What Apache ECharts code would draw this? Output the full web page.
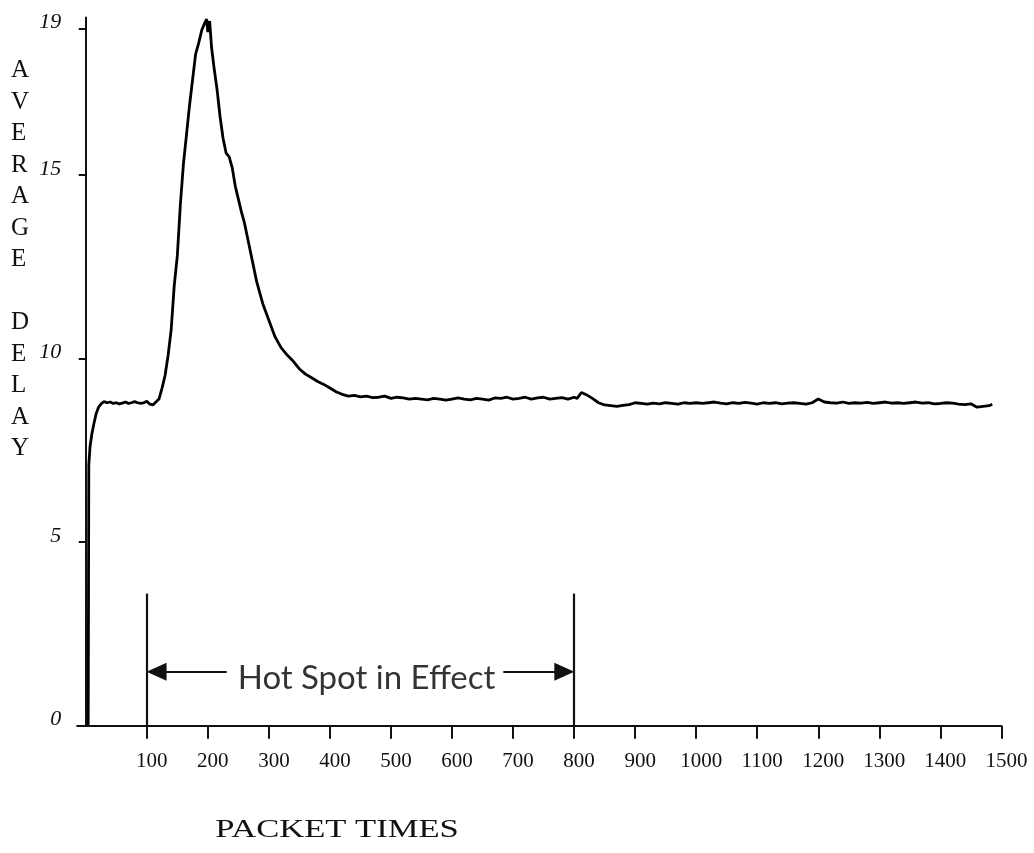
<!DOCTYPE html>
<html>
<head>
<meta charset="utf-8">
<script src="https://cdn.jsdelivr.net/npm/echarts@6/dist/echarts.min.js"></script>
<style>
html,body{margin:0;padding:0;background:#fff;}
#chart{width:1034px;height:853px;}
</style>
</head>
<body>
<div id="chart"></div>
<script>
// ---- data ----
var packetTimes = [4,4.5,5,7,10,13,17,21,26,30,35,40,45,50,55,60,65,70,75,80,85,90,95,100,105,110,115,120,125,130,135,140,145,150,155,160,165,170,175,180,185,190,195,198,200,203,206,210,215,220,225,230,235,240,245,250,255,260,270,280,290,300,310,320,330,340,350,360,370,380,390,400,410,420,430,440,450,460,470,480,490,500,510,520,530,540,550,560,570,580,590,600,610,620,630,640,650,660,670,680,690,700,710,720,730,740,750,760,770,780,790,800,805,812,820,830,840,850,860,870,880,890,900,910,920,930,940,950,960,970,980,990,1000,1010,1020,1030,1040,1050,1060,1070,1080,1090,1100,1110,1120,1130,1140,1150,1160,1170,1180,1190,1200,1210,1220,1230,1240,1250,1260,1270,1280,1290,1300,1310,1320,1330,1340,1350,1360,1370,1380,1390,1400,1410,1420,1430,1440,1450,1460,1470,1480,1485];
var averageDelay = [0,3.5,7.1,7.6,7.95,8.2,8.5,8.68,8.78,8.83,8.8,8.82,8.78,8.8,8.77,8.79,8.82,8.78,8.8,8.83,8.8,8.78,8.8,8.84,8.76,8.74,8.82,8.9,9.2,9.55,10.1,10.8,12.0,12.8,14.2,15.3,16.1,16.9,17.6,18.3,18.6,18.95,19.15,19.25,18.9,19.2,18.5,17.95,17.35,16.6,16.0,15.6,15.5,15.2,14.7,14.35,14.0,13.7,12.9,12.1,11.5,11.05,10.6,10.3,10.1,9.93,9.72,9.58,9.48,9.38,9.3,9.2,9.1,9.03,8.98,9.0,8.96,8.98,8.94,8.95,8.98,8.92,8.95,8.93,8.9,8.92,8.9,8.88,8.92,8.9,8.87,8.9,8.93,8.9,8.88,8.92,8.9,8.87,8.93,8.92,8.95,8.9,8.92,8.95,8.9,8.93,8.95,8.9,8.92,8.94,8.9,8.95,8.92,9.08,9.02,8.92,8.8,8.74,8.72,8.7,8.73,8.75,8.8,8.78,8.76,8.79,8.77,8.8,8.78,8.76,8.8,8.78,8.8,8.78,8.8,8.82,8.79,8.77,8.8,8.78,8.81,8.79,8.76,8.8,8.78,8.8,8.77,8.79,8.8,8.78,8.76,8.8,8.9,8.82,8.8,8.79,8.82,8.78,8.8,8.79,8.81,8.78,8.8,8.82,8.79,8.8,8.78,8.8,8.82,8.79,8.8,8.77,8.78,8.8,8.79,8.76,8.75,8.77,8.68,8.7,8.72,8.76,8.8,8.82];

var xTickValues = [100,200,300,400,500,600,700,800,900,1000,1100,1200,1300,1400,1500];
var yTickValues = [0,5,10,15,19];

var hotSpotStart = 100;
var hotSpotEnd = 800;
var hotSpotMarkerTop = 3.6;
var hotSpotArrowY = 1.47;
var hotSpotArrowLeftFrom = 231;
var hotSpotArrowRightFrom = 684;
var hotSpotLabel = 'Hot Spot in Effect';
var hotSpotLabelPos = [460, 1.3];

var yTitle = 'A\nV\nE\nR\nA\nG\nE\n\nD\nE\nL\nA\nY';
var xTitle = 'PACKET TIMES';

// ---- styling helpers ----
var arrowTipShift = 16; // half the arrowhead length, in x units, so the tip touches the marker line
var seriesData = packetTimes.map(function (x, i) { return [x, averageDelay[i]]; });
var ink = '#111';
var chart = echarts.init(document.getElementById('chart'), null, {renderer: 'canvas'});
chart.setOption({
  animation: false,
  backgroundColor: '#fff',
  grid: {left: 77.2, right: 32.6, top: 17.4, bottom: 127.3, containLabel: false},
  xAxis: {
    type: 'value', min: -14, max: 1500,
    splitLine: {show: false},
    axisLine: {show: true, onZero: true, lineStyle: {color: ink, width: 2}},
    axisTick: {show: true, customValues: xTickValues, length: 13, lineStyle: {color: ink, width: 2}},
    axisLabel: {
      customValues: xTickValues, margin: 25, color: ink,
      fontFamily: 'Liberation Serif', fontSize: 21, padding: [0, 0, 0, 10],
      formatter: function (v) { return String(v); }
    }
  },
  yAxis: {
    type: 'value', min: 0, max: 19.3,
    splitLine: {show: false},
    axisLine: {show: true, onZero: true, lineStyle: {color: ink, width: 2}},
    axisTick: {show: true, customValues: yTickValues, length: 7, lineStyle: {color: ink, width: 2}},
    axisLabel: {
      customValues: yTickValues, margin: 16, color: ink,
      fontFamily: 'Liberation Serif', fontStyle: 'italic', fontSize: 22,
      verticalAlign: 'bottom', lineHeight: 12,
      formatter: function (v) { return String(v); }
    }
  },
  graphic: [
    {
      type: 'text', left: 11, top: 55,
      style: {text: yTitle, fill: ink, font: '25px "Liberation Serif"', lineHeight: 31.5, align: 'center', width: 22}
    },
    {
      type: 'text', x: 337, y: 830, scaleX: 1.33,
      style: {text: xTitle, fill: ink, font: '26px "Liberation Serif"', align: 'center', verticalAlign: 'middle'}
    }
  ],
  series: [
    {
      type: 'line', data: seriesData, showSymbol: false, smooth: false,
      lineStyle: {color: '#000', width: 2.8},
      markLine: {
        silent: true, animation: false,
        lineStyle: {color: ink, width: 2.2, type: 'solid'},
        label: {show: false},
        symbolSize: [18, 20],
        data: [
          [{coord: [hotSpotStart, 0], symbol: 'none'}, {coord: [hotSpotStart, hotSpotMarkerTop], symbol: 'none'}],
          [{coord: [hotSpotEnd, 0], symbol: 'none'}, {coord: [hotSpotEnd, hotSpotMarkerTop], symbol: 'none'}],
          [{coord: [hotSpotArrowLeftFrom, hotSpotArrowY], symbol: 'none'}, {coord: [hotSpotStart + arrowTipShift, hotSpotArrowY], symbol: 'triangle'}],
          [{coord: [hotSpotArrowRightFrom, hotSpotArrowY], symbol: 'none'}, {coord: [hotSpotEnd - arrowTipShift, hotSpotArrowY], symbol: 'triangle'}]
        ]
      }
    },
    {
      type: 'scatter', symbolSize: 0, silent: true,
      data: [hotSpotLabelPos],
      label: {
        show: true, position: 'inside', formatter: hotSpotLabel,
        color: '#000', fontFamily: 'Lato', fontSize: 33
      }
    }
  ]
});
</script>
</body>
</html>
